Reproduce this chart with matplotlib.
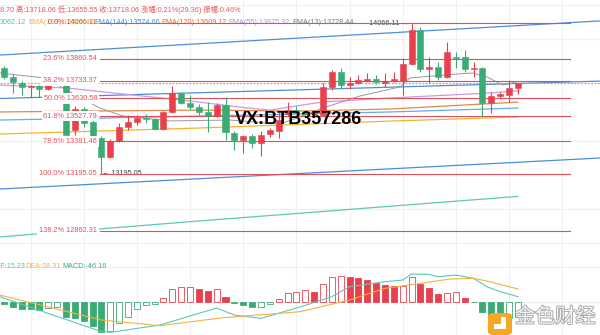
import matplotlib
matplotlib.use('Agg')
import matplotlib.pyplot as plt
import matplotlib.patheffects as pe
from matplotlib.patches import Rectangle, FancyBboxPatch

plt.rcParams['font.family'] = ['Liberation Sans', 'Noto Sans CJK SC', 'DejaVu Sans']

# ---------------- data ----------------
opens = [13806.95, 13754.75, 13719.95, 13696.75, 13702.55, 13685.15, 13725.75, 13714.15, 13447.35, 13569.15,
         13493.75, 13400.95, 13290.75, 13383.55, 13464.75, 13493.75, 13516.95, 13511.15, 13453.15, 13551.75,
         13661.95, 13603.95, 13580.75, 13551.75, 13528.55, 13592.35, 13429.95, 13389.35, 13412.55, 13371.95,
         13424.15, 13441.55, 13540.15, 13563.35, 13551.75, 13540.15, 13534.35, 13696.75, 13783.75, 13708.35,
         13719.95, 13731.55, 13743.15, 13722.85, 13731.55, 13731.55, 13830.15, 14027.35, 13801.15, 13812.75,
         13754.75, 13870.75, 13870.75, 13801.15, 13806.95, 13603.95, 13644.55, 13650.35, 13688.70]
highs = [13818.55, 13772.15, 13731.55, 13708.35, 13708.35, 13737.35, 13737.35, 13725.75, 13586.55, 13580.75,
         13505.35, 13412.55, 13395.15, 13487.95, 13534.35, 13534.35, 13540.15, 13516.95, 13557.55, 13702.55,
         13667.75, 13650.35, 13598.15, 13609.75, 13603.95, 13638.75, 13441.55, 13418.35, 13424.15, 13441.55,
         13458.95, 13551.75, 13609.75, 13586.55, 13563.35, 13563.35, 13719.95, 13795.35, 13806.95, 13754.75,
         13766.35, 13777.95, 13766.35, 13777.95, 13783.75, 13864.95, 14066.11, 14044.75, 13870.75, 13841.75,
         13957.75, 13899.75, 13911.35, 13841.75, 13812.75, 13667.75, 13667.75, 13737.35, 13718.06]
lows = [13743.15, 13661.95, 13650.35, 13638.75, 13638.75, 13679.35, 13708.35, 13406.75, 13418.35, 13464.75,
        13389.35, 13195.05, 13284.95, 13377.75, 13447.35, 13476.35, 13487.95, 13447.35, 13447.35, 13545.95,
        13598.15, 13563.35, 13534.35, 13435.75, 13522.75, 13389.35, 13331.35, 13313.95, 13342.95, 13296.55,
        13406.75, 13400.95, 13528.55, 13534.35, 13528.55, 13528.55, 13528.55, 13679.35, 13690.95, 13685.15,
        13714.15, 13725.75, 13714.15, 13696.75, 13725.75, 13650.35, 13824.35, 13783.75, 13719.95, 13737.35,
        13748.95, 13806.95, 13783.75, 13754.75, 13522.75, 13545.95, 13632.95, 13609.75, 13655.55]
closes = [13754.75, 13725.75, 13696.75, 13702.55, 13685.15, 13725.75, 13714.15, 13418.35, 13569.15, 13487.95,
          13406.75, 13290.75, 13383.55, 13464.75, 13493.75, 13516.95, 13511.15, 13453.15, 13551.75, 13661.95,
          13603.95, 13580.75, 13551.75, 13528.55, 13592.35, 13435.75, 13389.35, 13412.55, 13371.95, 13418.35,
          13447.35, 13505.35, 13563.35, 13545.95, 13540.15, 13551.75, 13696.75, 13783.75, 13708.35, 13719.95,
          13737.35, 13743.15, 13725.75, 13731.55, 13743.15, 13830.15, 14027.35, 13801.15, 13812.75, 13754.75,
          13899.75, 13867.85, 13801.15, 13806.95, 13603.95, 13644.55, 13656.15, 13690.95, 13718.06]

# moving averages (read at a few candle positions)
ema13_idx = [-0.5, 4.6, 10.8, 13.4, 18.7, 25.5, 31.2, 36.0, 40.2, 44.7, 45.8, 51.1, 52.9, 54.5, 56.3, 58]
ema13_val = [13778, 13749, 13575, 13529, 13500, 13505, 13482, 13575, 13645, 13697, 13749, 13772, 13778, 13755, 13708, 13728.44]
ema55_idx = [-0.5, 7.1, 14.6, 22.1, 26.6, 30.0, 36.0, 43.6, 54.9, 58]
ema55_val = [13708, 13691, 13650, 13609, 13580, 13563, 13610, 13633, 13662, 13675.32]
ema120_idx = [-0.5, 22.1, 33.4, 43.6, 58]
ema120_val = [13552, 13563, 13557, 13569, 13609.12]
ema144_idx = [-0.5, 22.1, 43.6, 58]
ema144_val = [13505, 13528, 13552, 13574.66]
ema169_idx = [-0.5, 22.1, 43.6, 58]
ema169_val = [13424, 13459, 13499, 13523]
ema_long_idx = [-0.5, 22.1, 58]
ema_long_val = [12827, 12920, 13062.12]

# channel lines (two anchor points each)
chan_idx = [-0.5, 67.3]
chan_upper = [13882, 14080]
chan_mid = [13630, 13731]
chan_lower = [13105, 13285]

fib_pct = ['0.0%', '23.6%', '38.2%', '50.0%', '61.8%', '78.6%', '100.0%', '138.2%']
fib_val = [14066.11, 13860.54, 13733.37, 13630.58, 13527.79, 13381.46, 13195.05, 12862.31]
last_price = 13718.06

macd_hist = [-7.8, -15, -21.9, -21.9, -24.9, -19.8, -15, -46.8, -49.8, -57.9,
             -72, -90, -87.9, -64.8, -45, -21.9, -9.9, -6.9, 12, 37.2,
             43.2, 43.2, 38.1, 32.1, 37.2, 15, -3, -9.9, -15.9, -15,
             -6.9, 7.2, 25.2, 30, 35.1, 30, 52.2, 73.2, 77.1, 75,
             70.2, 65.1, 57, 50.1, 47.1, 47.1, 73.2, 53.1, 40.2, 22.2,
             25.2, 28.2, 12, -1.5, -31.8, -51.9, -54.9, -48, -46.16]
macd_filled = [1, 1, 1, 1, 1, 0, 0, 1, 1, 1,
               1, 1, 0, 0, 0, 0, 0, 0, 0, 0,
               0, 0, 1, 1, 0, 1, 1, 1, 1, 0,
               0, 0, 0, 0, 0, 1, 0, 0, 0, 1,
               1, 1, 1, 1, 1, 0, 0, 1, 1, 1,
               0, 0, 1, 1, 1, 1, 1, 0, 0]
dif_idx = [-0.5, 10.8, 12, 17.6, 24, 26, 29, 33.4, 37, 39, 43, 45, 46, 48, 49, 51, 53, 54.5, 56, 58]
dif_val = [15, -88, -92, -70, -19, -40, -50, -16, 15, 45, 60, 65, 83, 82, 75, 80, 70, 45, 30, 15.23]
dea_idx = [-0.5, 11, 17.6, 24.4, 33.4, 39, 43, 47, 50.3, 53, 54.5, 58]
dea_val = [20, -55, -72, -49, -30, 5, 40, 55, 68, 70, 62, 38.31]

# ---------------- layout ----------------
RED = '#e8414d'
GREEN = '#3aab74'
FIBC = '#e0505a'
PX_IDX = 8.86      # pixels per candle
X0 = 4.0           # pixel x of first candle
P_TOP, P_PER_PX = 14201.35, 5.8

fig = plt.figure(figsize=(6, 3.35), dpi=100)
fig.patch.set_facecolor('white')
ax = fig.add_axes([0, 80 / 335, 1, 255 / 335])
axm = fig.add_axes([0, 0, 1, 78 / 335])

xlim = ((0 - X0) / PX_IDX, (600 - X0) / PX_IDX)
for a in (ax, axm):
    a.set_xlim(*xlim)
    a.axis('off')
ax.set_ylim(P_TOP - P_PER_PX * 255, P_TOP)
axm.set_ylim((301.7 - 335) * 3, (301.7 - 257) * 3)

GRID = '#edf0f4'
for a in (ax, axm):
    k = 3
    while k < xlim[1]:
        a.axvline(k, color=GRID, lw=0.8, zorder=0)
        k += 6
for yp in [5, 39, 141, 209, 243]:
    ax.axhline(P_TOP - P_PER_PX * yp, color=GRID, lw=0.8, zorder=0)
for yp in [267, 301.7]:
    axm.axhline((301.7 - yp) * 3, color=GRID, lw=0.8, zorder=0)

def ptxt(a, x, y, s, top, h, **kw):
    a.text(x / 600, (top + h - y) / h, s, transform=a.transAxes, clip_on=False, **kw)

# channel and long lines
ax.plot(chan_idx, chan_upper, color='#4a8fd6', lw=0.9, zorder=1)
ax.plot(chan_idx, chan_mid, color='#4a8fd6', lw=0.9, zorder=1)
ax.plot(chan_idx, chan_lower, color='#4a8fd6', lw=0.9, zorder=1)
ax.plot(ema_long_idx, ema_long_val, color='#5cc8b8', lw=0.9, zorder=1)
ax.plot(ema169_idx, ema169_val, color='#f2b530', lw=0.9, zorder=1)
ax.plot(ema144_idx, ema144_val, color='#62aee6', lw=0.9, zorder=1)
ax.plot(ema120_idx, ema120_val, color='#e0894a', lw=0.9, zorder=1)
ax.plot(ema55_idx, ema55_val, color='#c99be0', lw=0.9, zorder=1)
ax.plot(ema13_idx, ema13_val, color='#9a9a9a', lw=0.7, zorder=1)

# fib lines
fib_start = 10.8
fib_end = (570 - X0) / PX_IDX
for v in fib_val:
    ax.plot([fib_start, fib_end], [v, v], color=FIBC, lw=0.8, zorder=2)
ax.plot([xlim[0], xlim[1]], [last_price, last_price], color='#ee8a92', lw=0.9,
        ls=(0, (1.5, 1.2)), zorder=2)

# candles
for i, (o, h, l, c) in enumerate(zip(opens, highs, lows, closes)):
    col = RED if c >= o else GREEN
    ax.plot([i, i], [l, h], color=col, lw=0.8, zorder=3, solid_capstyle='butt')
    bot = min(o, c)
    hgt = max(abs(c - o), 1.2)
    ax.add_patch(Rectangle((i - 0.34, bot), 0.68, hgt, facecolor=col, edgecolor=col, lw=0.4, zorder=3))

# fib labels (white boxes cover what lies beneath)
for pct, v in zip(fib_pct, fib_val):
    if pct == '0.0%':
        continue
    ax.text((97 - X0) / PX_IDX, v, f'{pct} {v:.2f}', color=FIBC, fontsize=5.3,
            ha='right', va='center', zorder=6,
            bbox=dict(boxstyle='square,pad=0.25', fc='white', ec='none'))

# high / low markers
ax.text(45.7, 14066.11, '14066.11 \u2192', fontsize=5.2, color='#444444', ha='right', va='center', zorder=1)
ax.text(11.1, 13195.05, '\u2190 13195.05', fontsize=5.2, color='#444444', ha='left', va='center', zorder=1)

# headers (main)
ptxt(ax, 0, 10, '8.70 高:13718.06 低:13655.55 收:13718.06 涨幅:0.21%(29.36) 振幅:0.46%', 0, 255,
     fontsize=5.2, color='#e05a63', va='center', zorder=1)
hdr2 = [(0, '3062.12', '#4cc3b5'), (28, 'EMA(169):13523.40', '#f2b530'),
        (94, 'EMA(144):13574.66', '#4a90d9'), (161, 'EMA(120):13609.12', '#e8652f'),
        (228, 'EMA(55):13675.32', '#c08ad8'), (292, 'EMA(13):13728.44', '#777777')]
for x, s, c in hdr2:
    ptxt(ax, x, 22, s, 0, 255, fontsize=5.2, color=c, va='center', zorder=1)
ptxt(ax, 48, 22, '0.0% 14066.11', 0, 255, fontsize=5.2, color=FIBC, va='center', zorder=1)

# watermark
ptxt(ax, 235, 120, 'VX:BTB357286', 0, 255, fontsize=13, fontweight='bold', color='black',
     va='center', zorder=8)

# MACD panel
for i, (v, f) in enumerate(zip(macd_hist, macd_filled)):
    col = RED if v >= 0 else GREEN
    fc = col if f else 'white'
    axm.add_patch(Rectangle((i - 0.34, min(0, v)), 0.68, abs(v), facecolor=fc, edgecolor=col, lw=0.6, zorder=2))
axm.plot(dif_idx, dif_val, color='#5cc8b8', lw=0.8, zorder=3)
axm.plot(dea_idx, dea_val, color='#f0b43c', lw=0.8, zorder=3)

ptxt(axm, -7, 267, 'DIF:15.23', 257, 78, fontsize=5.2, color='#4cc3b5', va='center')
ptxt(axm, 25, 267, 'DEA:38.31', 257, 78, fontsize=5.2, color='#f0b43c', va='center')
ptxt(axm, 62, 267, 'MACD:-46.16', 257, 78, fontsize=5.2, color='#3aab74', va='center')

# logo
icon = FancyBboxPatch((488 / 600, 0.0), 24 / 600, 22 / 335, boxstyle='round,pad=0,rounding_size=0.01',
                      transform=fig.transFigure, fc='#f5a623', ec='none', zorder=10)
fig.patches.append(icon)
fig.patches.append(Rectangle((494 / 600, 6 / 335), 12 / 600, 12 / 335, transform=fig.transFigure,
                             fc='white', ec='none', zorder=11))
fig.patches.append(Rectangle((494 / 600, 11 / 335), 7 / 600, 7 / 335, transform=fig.transFigure,
                             fc='#f5a623', ec='none', zorder=12))
fig.text(515 / 600, 1 - 317 / 335, '金色财经', fontsize=14.5, color='#f4f4f4', va='center', ha='left',
         family=['Noto Sans CJK SC'], zorder=12,
         path_effects=[pe.withStroke(linewidth=1.3, foreground='#a8a8a8')])

fig.savefig('out.png', dpi=100, facecolor='white')
